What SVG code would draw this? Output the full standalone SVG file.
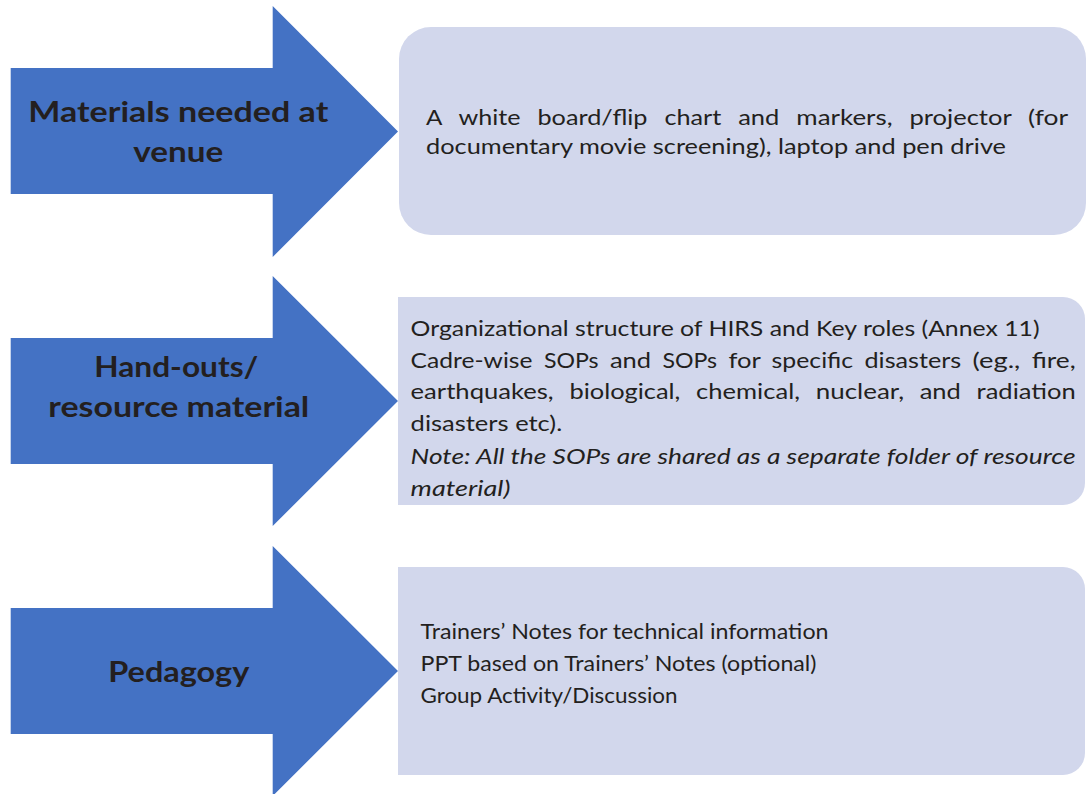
<svg xmlns="http://www.w3.org/2000/svg" width="1086" height="794" viewBox="0 0 1086 794">
<style>
.arrow{fill:#4472C4}
.box{fill:#D2D7EC}
.title{font-family:Lato,"Liberation Sans",sans-serif;font-weight:700;font-size:29px;fill:#231F20;text-anchor:middle}
.body{font-family:Lato,"Liberation Sans",sans-serif;font-size:22px;fill:#231F20}
.body3{font-size:21px}
.it{font-style:italic}
</style>
<rect width="1086" height="794" fill="#FFFFFF"/>
<g id="arrow-materials">
<polygon class="arrow" points="10.7,68 272.7,68 272.7,6 398,131.5 272.7,257 272.7,194 10.7,194"/>
<text class="title" x="178.3" y="122.3" textLength="300" lengthAdjust="spacingAndGlyphs">Materials needed at</text>
<text class="title" x="178.3" y="161.7" textLength="90" lengthAdjust="spacingAndGlyphs">venue</text>
</g>
<g id="box-materials">
<rect class="box" x="399" y="27" width="687" height="208" rx="32" ry="32"/>
<text class="body" y="125"><tspan x="426" textLength="15.6" lengthAdjust="spacingAndGlyphs">A</tspan> <tspan x="458.5" textLength="62.1" lengthAdjust="spacingAndGlyphs">white</tspan> <tspan x="537.5" textLength="110" lengthAdjust="spacingAndGlyphs">board/flip</tspan> <tspan x="664.4" textLength="56.9" lengthAdjust="spacingAndGlyphs">chart</tspan> <tspan x="738.2" textLength="41.2" lengthAdjust="spacingAndGlyphs">and</tspan> <tspan x="796.3" textLength="96.3" lengthAdjust="spacingAndGlyphs">markers,</tspan> <tspan x="909.5" textLength="101.7" lengthAdjust="spacingAndGlyphs">projector</tspan> <tspan x="1028.1" textLength="40" lengthAdjust="spacingAndGlyphs">(for</tspan></text>
<text class="body" x="426" y="154" textLength="580" lengthAdjust="spacingAndGlyphs">documentary movie screening), laptop and pen drive</text>
</g>
<g id="arrow-handouts">
<polygon class="arrow" points="10.7,338 272.7,338 272.7,276 398,401 272.7,526 272.7,464 10.7,464"/>
<text class="title" x="176.3" y="377.3" textLength="164" lengthAdjust="spacingAndGlyphs">Hand-outs/</text>
<text class="title" x="178.8" y="416.7" textLength="261" lengthAdjust="spacingAndGlyphs">resource material</text>
</g>
<g id="box-handouts">
<path class="box" d="M398,297 H1063 A22,22 0 0 1 1085,319 V483 A22,22 0 0 1 1063,505 H398 Z"/>
<text class="body" x="410.6" y="336" textLength="629" lengthAdjust="spacingAndGlyphs">Organizational structure of HIRS and Key roles (Annex 11)</text>
<text class="body" y="367.5"><tspan x="410.6" textLength="121.9" lengthAdjust="spacingAndGlyphs">Cadre-wise</tspan> <tspan x="543.9" textLength="54.7" lengthAdjust="spacingAndGlyphs">SOPs</tspan> <tspan x="609.9" textLength="41.2" lengthAdjust="spacingAndGlyphs">and</tspan> <tspan x="662.4" textLength="54.7" lengthAdjust="spacingAndGlyphs">SOPs</tspan> <tspan x="728.5" textLength="31.8" lengthAdjust="spacingAndGlyphs">for</tspan> <tspan x="771.6" textLength="81.5" lengthAdjust="spacingAndGlyphs">specific</tspan> <tspan x="864.5" textLength="96.7" lengthAdjust="spacingAndGlyphs">disasters</tspan> <tspan x="972.5" textLength="47.8" lengthAdjust="spacingAndGlyphs">(eg.,</tspan> <tspan x="1031.7" textLength="44" lengthAdjust="spacingAndGlyphs">fire,</tspan></text>
<text class="body" y="399"><tspan x="410.6" textLength="143.1" lengthAdjust="spacingAndGlyphs">earthquakes,</tspan> <tspan x="569.4" textLength="111" lengthAdjust="spacingAndGlyphs">biological,</tspan> <tspan x="696.1" textLength="103.9" lengthAdjust="spacingAndGlyphs">chemical,</tspan> <tspan x="815.7" textLength="88.4" lengthAdjust="spacingAndGlyphs">nuclear,</tspan> <tspan x="919.7" textLength="41.2" lengthAdjust="spacingAndGlyphs">and</tspan> <tspan x="976.6" textLength="99.1" lengthAdjust="spacingAndGlyphs">radiation</tspan></text>
<text class="body" x="410.6" y="431" textLength="151.6" lengthAdjust="spacingAndGlyphs">disasters etc).</text>
<text class="body it" x="410.6" y="463.5" textLength="665" lengthAdjust="spacingAndGlyphs">Note: All the SOPs are shared as a separate folder of resource</text>
<text class="body it" x="410.6" y="495.5" textLength="99.8" lengthAdjust="spacingAndGlyphs">material)</text>
</g>
<g id="arrow-pedagogy">
<polygon class="arrow" points="10.7,608 272.7,608 272.7,546 398,671 272.7,796 272.7,734 10.7,734"/>
<text class="title" x="178.8" y="681.7" textLength="141" lengthAdjust="spacingAndGlyphs">Pedagogy</text>
</g>
<g id="box-pedagogy">
<path class="box" d="M398,567 H1063 A22,22 0 0 1 1085,589 V753 A22,22 0 0 1 1063,775 H398 Z"/>
<text class="body body3" x="420.5" y="639" textLength="408" lengthAdjust="spacingAndGlyphs">Trainers’ Notes for technical information</text>
<text class="body body3" x="420.5" y="671" textLength="396" lengthAdjust="spacingAndGlyphs">PPT based on Trainers’ Notes (optional)</text>
<text class="body body3" x="420.5" y="703" textLength="257" lengthAdjust="spacingAndGlyphs">Group Activity/Discussion</text>
</g>
<g id="connectors"/>
</svg>
